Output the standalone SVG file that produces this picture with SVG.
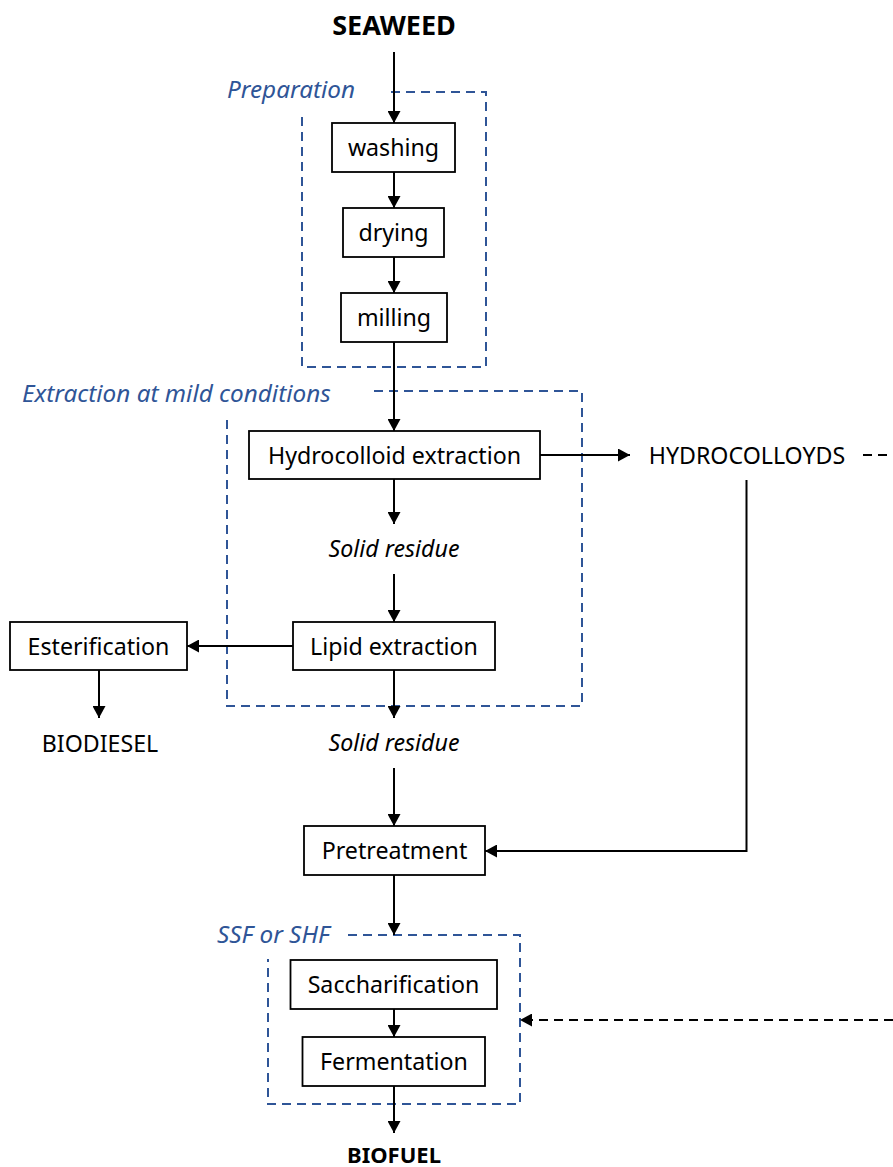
<svg xmlns="http://www.w3.org/2000/svg" width="893" height="1167" viewBox="0 0 893 1167">
<defs>
<style>
.box{fill:#fff;stroke:#000;stroke-width:1.8}
.t{font-family:"Noto Sans","Open Sans",sans-serif;font-size:23.2px;fill:#000;text-anchor:middle}
.it{font-style:italic}
.b{font-weight:bold;font-size:27px}
.lbl{font-family:"Noto Sans","Open Sans",sans-serif;font-size:24.3px;font-style:italic;fill:#2F5597}
.grp{fill:none;stroke:#2F5597;stroke-width:2;stroke-dasharray:9 6}
.c{fill:none;stroke:#000;stroke-width:2}
.d{fill:none;stroke:#000;stroke-width:2;stroke-dasharray:9 6}
</style>
<marker id="ah" markerUnits="userSpaceOnUse" markerWidth="13" markerHeight="13" refX="12" refY="6.5" orient="auto">
<path d="M0,0 L12,6.5 L0,13 z" fill="#000"/>
</marker>
</defs>
<rect width="893" height="1167" fill="#fff"/>

<g id="groups">
<path class="grp" d="M391,92 H486 V367 H302 V114"/>
<text class="lbl" x="227" y="98">Preparation</text>
<path class="grp" d="M374,391 H582 V706 H227 V418"/>
<text class="lbl" x="22" y="402">Extraction at mild conditions</text>
<path class="grp" d="M348,935 H520 V1104 H268 V959"/>
<text class="lbl" x="217" y="943">SSF or SHF</text>
</g>

<g id="connectors">
<line class="c" x1="394" y1="52" x2="394" y2="123" marker-end="url(#ah)"/>
<line class="c" x1="394" y1="172" x2="394" y2="208" marker-end="url(#ah)"/>
<line class="c" x1="394" y1="257" x2="394" y2="293" marker-end="url(#ah)"/>
<line class="c" x1="394" y1="342" x2="394" y2="431" marker-end="url(#ah)"/>
<line class="c" x1="540" y1="455" x2="630" y2="455" marker-end="url(#ah)"/>
<line class="d" x1="863" y1="455" x2="893" y2="455"/>
<line class="c" x1="394" y1="479" x2="394" y2="524" marker-end="url(#ah)"/>
<line class="c" x1="394" y1="574" x2="394" y2="622" marker-end="url(#ah)"/>
<line class="c" x1="293" y1="646" x2="187" y2="646" marker-end="url(#ah)"/>
<line class="c" x1="99" y1="670" x2="99" y2="718" marker-end="url(#ah)"/>
<line class="c" x1="394" y1="670" x2="394" y2="718" marker-end="url(#ah)"/>
<line class="c" x1="394" y1="768" x2="394" y2="826" marker-end="url(#ah)"/>
<path class="c" d="M746.5,480 V851 H485" marker-end="url(#ah)"/>
<line class="c" x1="394" y1="875" x2="394" y2="935" marker-end="url(#ah)"/>
<line class="c" x1="394" y1="1009" x2="394" y2="1037" marker-end="url(#ah)"/>
<line class="c" x1="394" y1="1086" x2="394" y2="1133" marker-end="url(#ah)"/>
<line class="d" x1="893" y1="1020" x2="520" y2="1020" marker-end="url(#ah)"/>
</g>

<g id="seaweed"><text class="t b" x="394" y="35">SEAWEED</text></g>
<g id="washing"><rect class="box" x="332" y="123" width="123" height="49"/><text class="t" x="393.5" y="156">washing</text></g>
<g id="drying"><rect class="box" x="343" y="208" width="101" height="49"/><text class="t" x="393.5" y="241">drying</text></g>
<g id="milling"><rect class="box" x="341" y="293" width="106" height="49"/><text class="t" x="394" y="326">milling</text></g>
<g id="hydrocolloid-extraction"><rect class="box" x="249" y="431" width="291" height="48"/><text class="t" x="394.5" y="464">Hydrocolloid extraction</text></g>
<g id="hydrocolloyds"><text class="t" x="747" y="464">HYDROCOLLOYDS</text></g>
<g id="solid-residue-1"><text class="t it" x="394" y="557">Solid residue</text></g>
<g id="lipid-extraction"><rect class="box" x="293" y="622" width="202" height="48"/><text class="t" x="394" y="655">Lipid extraction</text></g>
<g id="esterification"><rect class="box" x="10" y="622" width="177" height="48"/><text class="t" x="98.5" y="655">Esterification</text></g>
<g id="biodiesel"><text class="t" x="100" y="752">BIODIESEL</text></g>
<g id="solid-residue-2"><text class="t it" x="394" y="751">Solid residue</text></g>
<g id="pretreatment"><rect class="box" x="304" y="826" width="181" height="49"/><text class="t" x="394.5" y="859">Pretreatment</text></g>
<g id="saccharification"><rect class="box" x="290.5" y="960" width="206.5" height="49"/><text class="t" x="393.5" y="993">Saccharification</text></g>
<g id="fermentation"><rect class="box" x="302.5" y="1037" width="182.5" height="49"/><text class="t" x="394" y="1070">Fermentation</text></g>
<g id="biofuel"><text class="t" style="font-weight:bold;font-size:22px" x="394" y="1163">BIOFUEL</text></g>
</svg>
